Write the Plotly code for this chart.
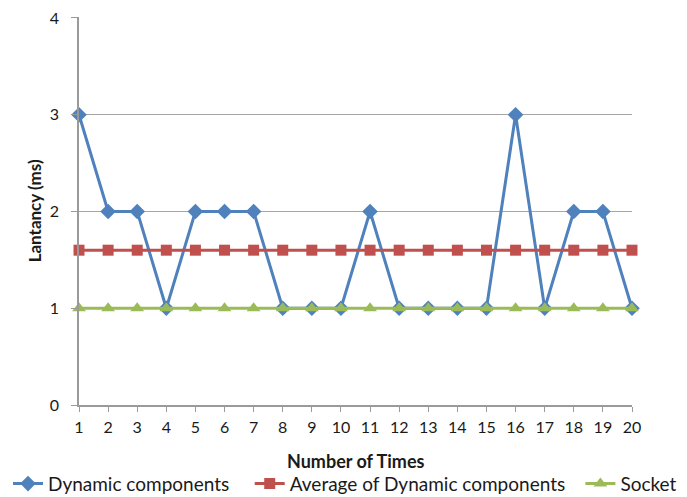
import plotly.graph_objects as go

times = list(range(1, 21))
dynamic = [3, 2, 2, 1, 2, 2, 2, 1, 1, 1, 2, 1, 1, 1, 1, 3, 1, 2, 2, 1]
average = [1.6] * 20
socket = [1] * 20

FONT = "Lato, Open Sans, sans-serif"
TXT = "#1a1a1a"

fig = go.Figure()
fig.add_trace(go.Scatter(x=times, y=dynamic, name="Dynamic components", mode="lines+markers",
                         line=dict(color="#4F81BD", width=3),
                         marker=dict(symbol="diamond", size=12, color="#4F81BD"),
                         cliponaxis=False, legend="legend"))
fig.add_trace(go.Scatter(x=times, y=average, name="Average of Dynamic components", mode="lines+markers",
                         line=dict(color="#C0504D", width=3),
                         marker=dict(symbol="square", size=11, color="#C0504D"),
                         cliponaxis=False, legend="legend2"))
fig.add_trace(go.Scatter(x=times, y=socket, name="Socket", mode="lines+markers",
                         line=dict(color="#9BBB59", width=3),
                         marker=dict(symbol="triangle-up", size=12, color="#9BBB59"),
                         cliponaxis=False, legend="legend3"))

leg_common = dict(orientation="h", xref="container", xanchor="left",
                  yref="paper", y=-0.203, yanchor="middle",
                  font=dict(size=19, color=TXT), bgcolor="rgba(0,0,0,0)")

fig.update_layout(
    width=679, height=489,
    margin=dict(l=71, r=55, t=9, b=92, autoexpand=False),
    paper_bgcolor="white", plot_bgcolor="white",
    font=dict(family=FONT, size=16, color=TXT),
    showlegend=True,
    legend=dict(x=-0.02, **leg_common),
    legend2=dict(x=0.356, **leg_common),
    legend3=dict(x=0.843, **leg_common),
    xaxis=dict(range=[1, 20], tickmode="array", tickvals=times, ticktext=[str(t) for t in times],
               showgrid=False, showline=True, linecolor="#9a9a9a", linewidth=1.5,
               ticks="outside", ticklen=5, tickcolor="#9a9a9a", zeroline=False,
               tickfont=dict(size=16, color=TXT), ticklabelstandoff=2,
               ticklabeloverflow="allow"),
    yaxis=dict(range=[0, 4.01], tickvals=[0, 1, 2, 3, 4], showgrid=True, gridcolor="#a6a6a6",
               gridwidth=1.2, showline=True, linecolor="#9a9a9a", linewidth=1.5,
               ticks="outside", ticklen=6, tickcolor="#9a9a9a", zeroline=False,
               tickfont=dict(size=16, color=TXT), ticklabelstandoff=9,
               ticklabeloverflow="allow"),
    annotations=[
        dict(text="<b>Number of Times</b>", xref="paper", yref="paper", x=0.5, y=-0.144,
             xanchor="center", yanchor="middle", showarrow=False, font=dict(size=18, color=TXT)),
        dict(text="<b>Lantancy (ms)</b>", xref="paper", yref="paper", x=-0.0807, y=0.5,
             xanchor="center", yanchor="middle", textangle=-90, showarrow=False,
             font=dict(size=17, color=TXT)),
    ],
)

fig.write_html("out.html")
